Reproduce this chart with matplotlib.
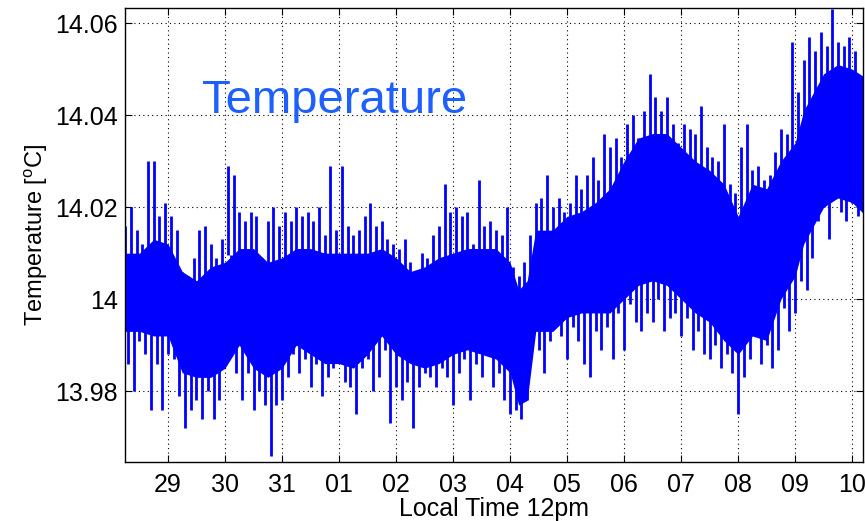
import numpy as np
import matplotlib
matplotlib.use("Agg")
import matplotlib.pyplot as plt

# sample times: days after the "29" tick (local noon), one hi/lo pair per 0.1 day
t_start = -0.75
t_step = 0.1

# upper and lower spike envelope, in mK relative to 14.000 degC
hi_mk = [16, 20, 15, 12, 30, 30, 18, 21, 18, 15,
         6, 5, 9, 15, 16, 12, 9, 13, 29, 27,
         19, 17, 19, 18, 9, 17, 20, 16, 19, 17,
         20, 18, 19, 17, 20, 14, 29, 15, 29, 16,
         14, 15, 18, 21, 16, 17, 13, 12, 11, 13,
         8, 6, 10, 9, 14, 16, 25, 19, 20, 18,
         19, 12, 26, 16, 17, 15, 14, 20, 7, 5,
         8, 14, 21, 22, 27, 20, 22, 19, 21, 27,
         24, 27, 31, 26, 36, 33, 35, 31, 38, 40,
         35, 41, 49, 44, 41, 44, 38, 34, 38, 37,
         36, 42, 33, 31, 30, 38, 25, 23, 33, 38,
         28, 29, 26, 27, 32, 37, 36, 56, 45, 52,
         57, 54, 58, 55, 63, 56, 55, 57, 54, 47]
lo_mk = [-14, -20, -9, -12, -24, -14, -24, -12, -13, -21,
         -28, -24, -22, -26, -20, -26, -22, -9, -10, -16,
         -22, -16, -24, -20, -23, -34, -23, -22, -17, -12,
         -16, -13, -19, -14, -21, -17, -15, -12, -18, -19,
         -25, -15, -13, -20, -17, -11, -27, -19, -22, -18,
         -28, -19, -16, -17, -19, -15, -17, -23, -16, -13,
         -22, -14, -17, -12, -19, -16, -22, -25, -24, -26,
         -22, -9, -11, -16, -9, -5, -8, -13, -6, -9,
         -14, -17, -7, -11, -6, -13, -3, -11, -1, -5,
         -7, -3, -5, 0, -7, -4, -3, -8, -4, -11,
         -7, -12, -13, -10, -15, -12, -16, -25, -17, -13,
         -8, -14, -10, -15, -11, -2, -7, -3, 4, 2,
         9, 17, 20, 13, 22, 19, 17, 21, 18, 7]

# solid core of the trace (where the noise fills in completely), mK
core_t = [-0.75, -0.5, -0.25, 0.0, 0.25, 0.5, 0.75, 1.0, 1.25, 1.5,
          1.75, 2.0, 2.25, 2.5, 2.75, 3.0, 3.25, 3.5, 3.75, 4.0,
          4.25, 4.5, 4.75, 5.0, 5.25, 5.5, 5.75, 6.0, 6.15, 6.3,
          6.45, 6.75, 7.0, 7.25, 7.5, 7.75, 8.0, 8.25, 8.5, 8.75,
          9.0, 9.25, 9.5, 9.75, 10.0, 10.25, 10.5, 10.75, 11.0, 11.15,
          11.5, 11.75, 12.0, 12.25]
core_hi_mk = [10, 10, 13, 12, 6, 4, 7, 8, 11, 11,
              8, 9, 11, 11, 10, 10, 10, 10, 11, 9,
              6, 7, 9, 10, 11, 11, 11, 8, 2, 4,
              15, 15, 18, 19, 21, 24, 30, 35, 36, 36,
              33, 30, 28, 25, 18, 25, 24, 30, 34, 41,
              49, 51, 50, 48]
core_lo_mk = [-7, -7, -8, -8, -16, -17, -17, -15, -10, -15,
              -17, -15, -10, -12, -14, -14, -15, -12, -8, -12,
              -14, -15, -14, -12, -11, -12, -13, -16, -23, -22,
              -7, -7, -4, -3, -3, -3, 0, 3, 4, 3,
              0, -3, -5, -9, -12, -8, -9, 0, 5, 12,
              20, 22, 21, 18]

day_ticks = list(range(0, 13))
day_labels = ["29", "30", "31", "01", "02", "03", "04",
              "05", "06", "07", "08", "09", "10"]
temp_ticks = [13.98, 14.00, 14.02, 14.04, 14.06]
temp_labels = ["13.98", "14", "14.02", "14.04", "14.06"]

plt.rcParams["font.family"] = ["Liberation Sans", "DejaVu Sans"]

hi = 14.0 + np.array(hi_mk) / 1000.0
lo = 14.0 + np.array(lo_mk) / 1000.0
mid = (hi + lo) / 2
t_hi = t_start + t_step * np.arange(len(hi))
t_lo = t_hi + t_step / 2

blue = "#0000ff"

fig = plt.figure(figsize=(8.65, 5.21), dpi=100)
ax = fig.add_axes([0.1445, 0.1132, 0.8532, 0.8724])

ax.fill_between(core_t, 14.0 + np.array(core_lo_mk) / 1000.0,
                14.0 + np.array(core_hi_mk) / 1000.0,
                color=blue, linewidth=0)
# upward and downward excursions of the noisy trace
ax.vlines(t_hi, mid, hi, color=blue, linewidth=2.0)
ax.vlines(t_lo, lo, mid, color=blue, linewidth=2.0)

ax.set_xlim(-0.754, 12.19)
ax.set_ylim(13.9646, 14.0634)
ax.set_xticks(day_ticks)
ax.set_xticklabels(day_labels)
ax.set_yticks(temp_ticks)
ax.set_yticklabels(temp_labels)

ax.tick_params(direction="in", length=5, width=0.8, labelsize=18,
               top=True, right=True)
ax.tick_params(axis="x", pad=8)
ax.tick_params(axis="y", pad=5)
ax.grid(True, color="black", linestyle=(0, (1, 3)), linewidth=0.8)
ax.set_axisbelow(True)
for sp in ax.spines.values():
    sp.set_linewidth(1.0)

ax.set_xlabel("Local Time 12pm", fontsize=18, labelpad=0)
ax.set_ylabel("Temperature [$^{\\mathregular{o}}$C]", fontsize=17, labelpad=4)

ax.text(0.105, 0.795, "Temperature", transform=ax.transAxes,
        color="#1e5fff", fontsize=34, va="center", ha="left")

fig.savefig("out.png", dpi=100)
